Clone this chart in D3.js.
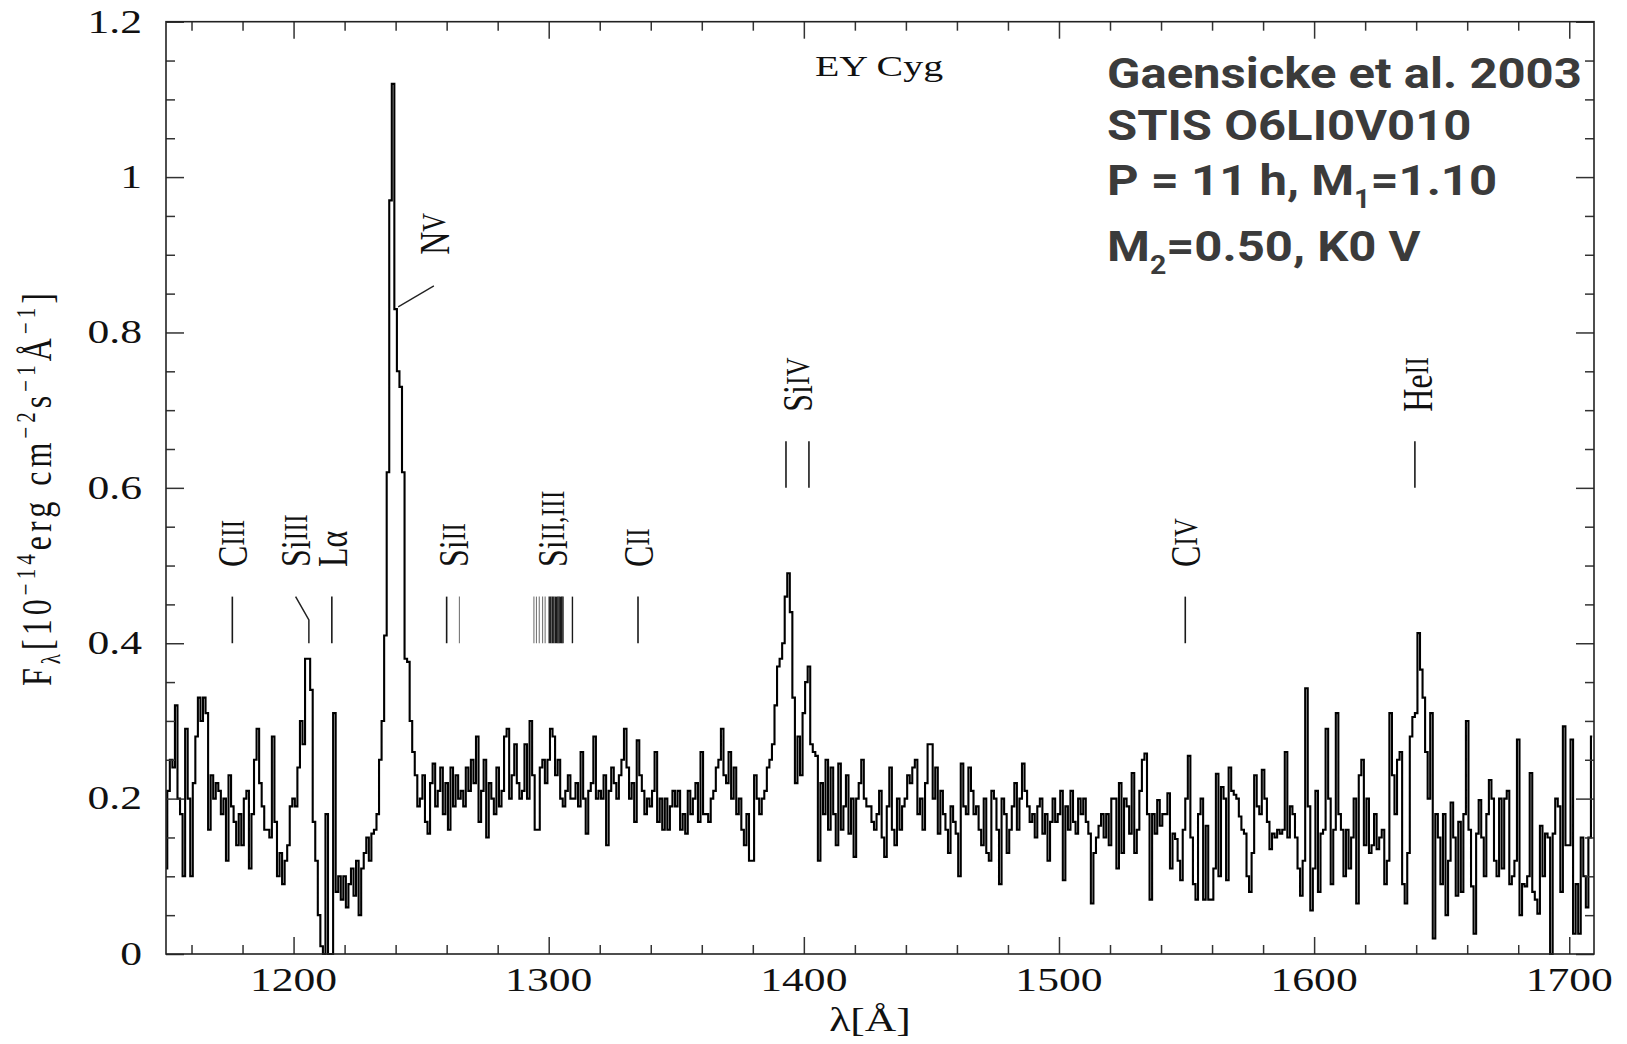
<!DOCTYPE html>
<html>
<head>
<meta charset="utf-8">
<script src="https://cdn.jsdelivr.net/npm/d3@7"></script>
<style>
  html, body { margin: 0; padding: 0; background: #fff; }
  svg { display: block; }
</style>
</head>
<body>
<svg id="chart" width="1627" height="1044"></svg>
<script>
// ---- data ---------------------------------------------------------------
// EY Cyg STIS far-UV spectrum, flux in 1e-14 erg/cm2/s/A, one value per 1 A bin from 1150 A
const waveStart = 1150;
const flux = [
  0.11, 0.21, 0.25, 0.24, 0.32, 0.20, 0.18, 0.10, 0.29, 0.20,
  0.10, 0.22, 0.28, 0.33, 0.30, 0.33, 0.31, 0.16, 0.23, 0.20,
  0.22, 0.21, 0.18, 0.20, 0.12, 0.23, 0.19, 0.17, 0.14, 0.18,
  0.14, 0.20, 0.21, 0.11, 0.18, 0.25, 0.29, 0.22, 0.19, 0.16,
  0.16, 0.15, 0.28, 0.17, 0.10, 0.13, 0.09, 0.12, 0.14, 0.19,
  0.20, 0.19, 0.24, 0.30, 0.27, 0.38, 0.38, 0.34, 0.17, 0.12,
  0.05, 0.01, 0.00, 0.18, 0.00, 0.00, 0.31, 0.08, 0.10, 0.07,
  0.10, 0.06, 0.09, 0.11, 0.075, 0.12, 0.05, 0.11, 0.13, 0.15,
  0.12, 0.155, 0.16, 0.18, 0.25, 0.30, 0.41, 0.62, 0.97, 1.12,
  0.83, 0.75, 0.73, 0.62, 0.38, 0.376, 0.30, 0.26, 0.23, 0.19,
  0.20, 0.23, 0.17, 0.155, 0.22, 0.245, 0.19, 0.21, 0.24, 0.18,
  0.22, 0.16, 0.24, 0.19, 0.23, 0.20, 0.21, 0.19, 0.24, 0.21,
  0.25, 0.22, 0.28, 0.17, 0.21, 0.25, 0.15, 0.22, 0.20, 0.18,
  0.24, 0.19, 0.21, 0.28, 0.29, 0.20, 0.23, 0.27, 0.22, 0.20,
  0.21, 0.27, 0.20, 0.30, 0.23, 0.16, 0.16, 0.24, 0.25, 0.22,
  0.25, 0.29, 0.28, 0.23, 0.25, 0.20, 0.19, 0.21, 0.23, 0.20,
  0.20, 0.22, 0.19, 0.26, 0.20, 0.155, 0.21, 0.22, 0.28, 0.20,
  0.21, 0.20, 0.23, 0.14, 0.21, 0.24, 0.22, 0.20, 0.23, 0.25,
  0.29, 0.24, 0.20, 0.22, 0.17, 0.275, 0.23, 0.21, 0.18, 0.20,
  0.19, 0.21, 0.26, 0.17, 0.20, 0.16, 0.20, 0.16, 0.19, 0.21,
  0.19, 0.21, 0.16, 0.18, 0.155, 0.21, 0.18, 0.20, 0.22, 0.17,
  0.26, 0.18, 0.18, 0.17, 0.20, 0.21, 0.24, 0.25, 0.29, 0.23,
  0.22, 0.26, 0.20, 0.24, 0.18, 0.20, 0.16, 0.14, 0.18, 0.12,
  0.12, 0.23, 0.20, 0.18, 0.20, 0.21, 0.24, 0.25, 0.27, 0.32,
  0.37, 0.38, 0.40, 0.46, 0.49, 0.44, 0.33, 0.22, 0.28, 0.23,
  0.31, 0.35, 0.37, 0.27, 0.26, 0.255, 0.12, 0.22, 0.18, 0.25,
  0.16, 0.24, 0.18, 0.14, 0.245, 0.16, 0.19, 0.23, 0.155, 0.20,
  0.125, 0.20, 0.22, 0.25, 0.20, 0.19, 0.19, 0.17, 0.16, 0.18,
  0.21, 0.15, 0.125, 0.19, 0.24, 0.16, 0.14, 0.20, 0.16, 0.19,
  0.20, 0.23, 0.22, 0.24, 0.25, 0.18, 0.20, 0.16, 0.22, 0.27,
  0.27, 0.20, 0.24, 0.155, 0.21, 0.18, 0.16, 0.13, 0.19, 0.17,
  0.155, 0.10, 0.245, 0.19, 0.18, 0.24, 0.21, 0.18, 0.19, 0.16,
  0.14, 0.20, 0.13, 0.12, 0.21, 0.20, 0.16, 0.09, 0.20, 0.18,
  0.13, 0.16, 0.19, 0.22, 0.16, 0.20, 0.245, 0.21, 0.19, 0.17,
  0.18, 0.15, 0.19, 0.20, 0.155, 0.18, 0.12, 0.17, 0.20, 0.17,
  0.18, 0.21, 0.095, 0.19, 0.16, 0.21, 0.17, 0.155, 0.20, 0.18,
  0.20, 0.17, 0.155, 0.065, 0.13, 0.15, 0.165, 0.18, 0.15, 0.18,
  0.14, 0.20, 0.20, 0.11, 0.22, 0.13, 0.20, 0.19, 0.155, 0.233,
  0.13, 0.16, 0.21, 0.25, 0.258, 0.18, 0.07, 0.18, 0.155, 0.198,
  0.165, 0.18, 0.18, 0.207, 0.11, 0.155, 0.148, 0.12, 0.095, 0.16,
  0.20, 0.255, 0.15, 0.09, 0.07, 0.18, 0.20, 0.07, 0.165, 0.07,
  0.07, 0.11, 0.232, 0.10, 0.215, 0.20, 0.095, 0.24, 0.21, 0.205,
  0.20, 0.177, 0.16, 0.155, 0.10, 0.08, 0.13, 0.23, 0.19, 0.18,
  0.237, 0.20, 0.17, 0.135, 0.155, 0.15, 0.16, 0.155, 0.16, 0.26,
  0.15, 0.19, 0.18, 0.15, 0.11, 0.075, 0.12, 0.342, 0.19, 0.056,
  0.11, 0.21, 0.08, 0.155, 0.16, 0.29, 0.20, 0.09, 0.16, 0.31,
  0.18, 0.16, 0.10, 0.16, 0.11, 0.15, 0.20, 0.065, 0.23, 0.25,
  0.14, 0.20, 0.13, 0.14, 0.18, 0.135, 0.15, 0.16, 0.09, 0.12,
  0.31, 0.23, 0.18, 0.25, 0.26, 0.09, 0.065, 0.13, 0.28, 0.305,
  0.31, 0.413, 0.366, 0.33, 0.26, 0.20, 0.31, 0.02, 0.18, 0.15,
  0.09, 0.18, 0.05, 0.12, 0.195, 0.15, 0.075, 0.17, 0.08, 0.18,
  0.30, 0.16, 0.087, 0.026, 0.155, 0.198, 0.15, 0.10, 0.18, 0.224,
  0.20, 0.12, 0.10, 0.20, 0.11, 0.20, 0.21, 0.09, 0.10, 0.12,
  0.276, 0.05, 0.09, 0.087, 0.10, 0.233, 0.08, 0.07, 0.052, 0.165,
  0.10, 0.155, 0.15, 0.00, 0.155, 0.20, 0.19, 0.08, 0.293, 0.14,
  0.14, 0.276, 0.026, 0.09, 0.026, 0.15, 0.10, 0.06, 0.15, 0.28
];

// axis ticks and their labels
const xMajorTicks = [1200, 1300, 1400, 1500, 1600, 1700];
const xTickLabels = ["1200", "1300", "1400", "1500", "1600", "1700"];
const yMajorTicks = [0, 0.2, 0.4, 0.6, 0.8, 1.0, 1.2];
const yTickLabels = ["0", "0.2", "0.4", "0.6", "0.8", "1", "1.2"];

// line identifications: element, ionisation stage, marked wavelengths, label wavelength
const idElement = ["C", "Si", "L\u03B1", "Si", "Si", "C", "C", "Si", "He", "N"];
const idStage   = ["III", "III", "", "II", "II,III", "II", "IV", "IV", "II", "V"];
const idWaves = [
  [1176],
  [1206],
  [1215],
  [1260, 1265],
  [1294.2, 1295.2, 1296.3, 1297.6, 1298.6, 1300.2, 1300.8, 1301.4, 1302.0, 1302.6, 1303.1, 1303.6, 1304.1, 1304.6, 1305.1, 1305.6, 1309.3],
  [1335],
  [1549.5],
  [1393, 1402],
  [1639.5],
  [1241]
];
const idLabelWave = [1176, 1200.8, 1215, 1262.7, 1301.6, 1335, 1549.5, 1397.5, 1640.3, 1255];
const idRow = ["low", "low", "low", "low", "low", "low", "low", "high", "high", "nv"];

// ---- layout -------------------------------------------------------------
const svg = d3.select("#chart");
const X0 = 166, X1 = 1594, Y0 = 954, Y1 = 21.7;
const x = d3.scaleLinear().domain([1150, 1709.7]).range([X0, X1]);
const y = d3.scaleLinear().domain([0, 1.2]).range([Y0, Y1]);

// the plot's serif lettering is drawn widened horizontally
const SX = 1.33;
const serif = "'Liberation Serif', 'Times New Roman', serif";
const ink = "#111";

// ---- spectrum -----------------------------------------------------------
svg.append("clipPath").attr("id", "plotClip")
  .append("rect").attr("x", X0).attr("y", Y1).attr("width", X1 - X0).attr("height", Y0 - Y1 + 2);

const spec = flux.map((f, i) => ({ w: waveStart + i, f }));
const stepLine = d3.line().x(d => x(d.w)).y(d => y(d.f)).curve(d3.curveStep);
svg.append("path")
  .datum(spec)
  .attr("clip-path", "url(#plotClip)")
  .attr("d", stepLine)
  .attr("fill", "none")
  .attr("stroke", "#000")
  .attr("stroke-width", 2.1)
  .attr("stroke-linejoin", "miter");

// ---- frame and ticks ----------------------------------------------------
const xMinor = d3.range(1160, 1701, 20).filter(v => v % 100 !== 0);
const yMinor = d3.range(1, 24).filter(i => i % 4 !== 0).map(i => i * 0.05);

function tickAxis(axisFn, scale, values, size, transform) {
  const g = svg.append("g").attr("transform", transform)
    .call(axisFn(scale).tickValues(values).tickSize(-size).tickFormat(""));
  g.select(".domain").remove();
  g.selectAll(".tick line").attr("stroke", "#333").attr("stroke-width", 1.5);
}
tickAxis(d3.axisBottom, x, xMinor, 9, `translate(0,${Y0})`);
tickAxis(d3.axisBottom, x, xMajorTicks, 17, `translate(0,${Y0})`);
tickAxis(d3.axisTop, x, xMinor, 9, `translate(0,${Y1})`);
tickAxis(d3.axisTop, x, xMajorTicks, 17, `translate(0,${Y1})`);
tickAxis(d3.axisLeft, y, yMinor, 9, `translate(${X0},0)`);
tickAxis(d3.axisLeft, y, yMajorTicks, 18, `translate(${X0},0)`);
tickAxis(d3.axisRight, y, yMinor, 9, `translate(${X1},0)`);
tickAxis(d3.axisRight, y, yMajorTicks, 18, `translate(${X1},0)`);

svg.append("rect")
  .attr("x", X0).attr("y", Y1).attr("width", X1 - X0).attr("height", Y0 - Y1)
  .attr("fill", "none").attr("stroke", "#222").attr("stroke-width", 1.6);

// ---- tick labels --------------------------------------------------------
function wideText(tx, ty, anchor, size, str) {
  return svg.append("text")
    .attr("transform", `translate(${tx},${ty}) scale(${SX},1)`)
    .attr("text-anchor", anchor)
    .style("font-family", serif)
    .style("font-size", size + "px")
    .attr("fill", ink)
    .text(str);
}
xMajorTicks.forEach((v, i) => wideText(x(v), 991, "middle", 32.8, xTickLabels[i]));
yMajorTicks.forEach((v, i) => wideText(142, y(v) + 10.8, "end", 32.8, yTickLabels[i]));

// axis titles
wideText((X0 + X1) / 2 - 10, 1031, "middle", 32.8, "\u03BB[\u00C5]");

const yTitle = svg.append("text")
  .attr("transform", `translate(51,489.5) scale(${SX},1) rotate(-90)`)
  .attr("text-anchor", "middle")
  .style("font-family", serif)
  .style("font-size", "32px")
  .attr("fill", ink)
  .attr("textLength", 393)
  .attr("lengthAdjust", "spacing");
[
  ["F", 0, 32], ["\u03BB", 7, 21], ["[10", -7, 32], ["\u221214", -12, 21],
  ["erg cm", 12, 32], ["\u22122", -12, 21], ["s", 12, 32], ["\u22121", -12, 21],
  ["\u00C5", 12, 32], ["\u22121", -12, 21], ["]", 12, 32]
].forEach(([t, dy, fs]) => {
  yTitle.append("tspan").attr("dy", dy).style("font-size", fs + "px").text(t);
});

// object name
wideText(879, 76, "middle", 30, "EY Cyg");

// ---- line identification marks -----------------------------------------
const markRange = { low: [0.40, 0.46], high: [0.60, 0.66] };
const labelBase = { low: 0.498, high: 0.698, nv: 0.90 };

idWaves.forEach((waves, k) => {
  const row = idRow[k];
  if (row === "nv") {
    // pointer from the N V peak
    svg.append("line")
      .attr("x1", x(1241)).attr("y1", y(0.833))
      .attr("x2", x(1255)).attr("y2", y(0.86))
      .attr("stroke", "#222").attr("stroke-width", 1.3);
    return;
  }
  const [lo, hi] = markRange[row];
  const dense = waves.length > 2;
  waves.forEach((w, j) => {
    if (idStage[k] === "III" && idElement[k] === "Si" && waves.length === 1) {
      // bent mark for Si III, skewed away from Ly alpha
      svg.append("path")
        .attr("d", d3.line()([[x(w), y(lo)], [x(w), y(0.43)], [x(1200.8), y(hi)]]))
        .attr("fill", "none").attr("stroke", "#222").attr("stroke-width", 1.5);
    } else {
      const faint = (dense && w < 1300) || (k === 3 && j === 1);
      svg.append("line")
        .attr("x1", x(w)).attr("x2", x(w))
        .attr("y1", y(lo)).attr("y2", y(hi))
        .attr("stroke", faint ? "#777" : "#1a1a1a")
        .attr("stroke-width", faint ? 1.1 : (dense ? 1.4 : 1.6));
    }
  });
});

idElement.forEach((el, k) => {
  const t = svg.append("text")
    .attr("transform", `translate(${x(idLabelWave[k])},${y(labelBase[idRow[k]])}) scale(${SX},1) rotate(-90)`)
    .attr("text-anchor", "start")
    .attr("dominant-baseline", "central")
    .style("font-family", serif)
    .attr("fill", ink);
  t.append("tspan").style("font-size", "32px").text(el);
  if (idStage[k]) t.append("tspan").style("font-size", "26px").text(idStage[k]);
});

// ---- system parameters --------------------------------------------------
const info = svg.append("g")
  .style("font-family", "Roboto, 'Open Sans', sans-serif")
  .style("font-weight", 700)
  .style("font-size", "43px")
  .attr("fill", "#3b3b3b");

const l1 = info.append("text").attr("x", 0).attr("y", 88).text("Gaensicke et al. 2003");
info.append("text").attr("x", 0).attr("y", 140).text("STIS O6LI0V010");
const l3 = info.append("text").attr("x", 0).attr("y", 195);
l3.append("tspan").text("P = 11 h, M");
l3.append("tspan").attr("dy", 13).style("font-size", "25px").text("1");
l3.append("tspan").attr("dy", -13).text("=1.10");
const l4 = info.append("text").attr("x", 0).attr("y", 261);
l4.append("tspan").text("M");
l4.append("tspan").attr("dy", 13).style("font-size", "25px").text("2");
l4.append("tspan").attr("dy", -13).text("=0.50, K0 V");

const w1 = l1.node().getComputedTextLength();
info.attr("transform", `translate(1107,0) scale(${475 / w1},1)`);
</script>
</body>
</html>
